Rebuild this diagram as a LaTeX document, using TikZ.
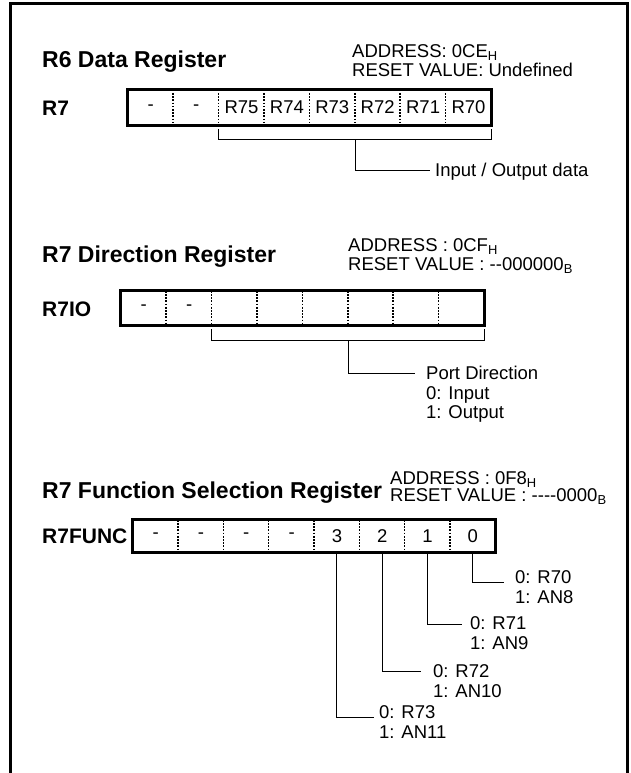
\documentclass[tikz,border=0pt]{standalone}
\usepackage{fontspec}
\setmainfont{Liberation Sans}
\usetikzlibrary{calc}

\begin{document}
\begin{tikzpicture}[x=1pt, y=-1pt,
			titel/.style={font=\fontsize{23}{26}\selectfont\bfseries, anchor=base west, inner sep=0pt},
			regname/.style={font=\fontsize{21}{24}\selectfont\bfseries, anchor=base west, inner sep=0pt},
			adresse/.style={font=\fontsize{18.5}{#1}\selectfont, anchor=north west, inner sep=0pt, align=left},
			bit/.style={minimum width=45.4pt, minimum height=#1, inner sep=0pt, font=\fontsize{18.5}{20}\selectfont},
			rahmen/.style={line width=3pt},
			trenner/.style={line width=1.5pt, dash pattern=on 1.7pt off 1.5pt},
			linie/.style={line width=1pt},
			hinweis/.style={font=\fontsize{18.5}{#1}\selectfont, anchor=north west, inner sep=0pt, align=left},
			execute at begin node={\lineskiplimit=-20pt}]
			\useasboundingbox (0,0) rectangle (631,773);
			% Rahmen zeichnen
			\draw[rahmen] (10,773) -- (10,4) -- (627.5,4) -- (627.5,773);
			% Datenregister
			\node[titel] (t1) at (42,68) {R6 Data Register};
			\node[adresse=19] (a1) at (352,44.7) {ADDRESS: 0CE\textsubscript{H}\\RESET VALUE: Undefined};
			\node[regname] (n1) at (42,116) {R7};
			\foreach \lab [count=\i from 0] in {-,-,R75,R74,R73,R72,R71,R70} \node[bit=35pt] (d\i) at (128+22.7+45.4*\i,107.5) {\lab};
			\foreach \i in {1,...,7} \draw[trenner] (d\i.north west) -- (d\i.south west);
			\draw[rahmen] (d0.north west) rectangle (d7.south east);
			\draw[linie] ([yshift=-4pt]d2.south west) -- ++(0,10) -| ([yshift=-4pt]d7.south east);
			\coordinate (m1) at ($(d2.south west)!0.5!(d7.south east)+(0,14)$);
			\coordinate (e1) at (430,170);
			\draw[linie] (m1) |- (e1);
			\node[hinweis=20] (h1) at (435,163.3) {Input / Output data};
			% Richtungsregister
			\node[titel] (t2) at (42,262) {R7 Direction Register};
			\node[adresse=19] (a2) at (348,238.7) {ADDRESS : 0CF\textsubscript{H}\\RESET VALUE : -{}-000000\textsubscript{B}};
			\node[regname] (n2) at (42,316) {R7IO};
			\foreach \lab [count=\i from 0] in {-,-,{},{},{},{},{},{}} \node[bit=34pt] (p\i) at (121+22.7+45.4*\i,308) {\lab};
			\foreach \i in {1,...,7} \draw[trenner] (p\i.north west) -- (p\i.south west);
			\draw[rahmen] (p0.north west) rectangle (p7.south east);
			\draw[linie] ([yshift=-4pt]p2.south west) -- ++(0,11) -| ([yshift=-4pt]p7.south east);
			\coordinate (m2) at ($(p2.south west)!0.5!(p7.south east)+(0,15)$);
			\coordinate (e2) at (415,373);
			\draw[linie] (m2) |- (e2);
			\node[hinweis=19.5] (h2) at (426,366.3) {Port Direction\\0: Input\\1: Output};
			% Funktionsregister
			\node[titel] (t3) at (42,498) {R7 Function Selection Register};
			\node[adresse=17] (a3) at (390,471.7) {ADDRESS : 0F8\textsubscript{H}\\RESET VALUE : -{}-{}-{}-0000\textsubscript{B}};
			\node[regname] (n3) at (42,543) {R7FUNC};
			\foreach \lab [count=\i from 0] in {-,-,-,-,3,2,1,0} \node[bit=32pt] (f\i) at (133+22.7+45.3*\i,536) {\lab};
			\foreach \i in {1,...,7} \draw[trenner] (f\i.north west) -- (f\i.south west);
			\draw[rahmen] (f0.north west) rectangle (f7.south east);
			% Bits beschriften
			\foreach \i/\ex/\ey/\tx/\ty/\lab in {7/504/582/515/577/{0: R70\\1: AN8}, 6/462/624/470/623/{0: R71\\1: AN9}, 5/421/671/433/671/{0: R72\\1: AN10}, 4/374/717/379/712/{0: R73\\1: AN11}} {
				\coordinate (b\i) at (\ex,\ey);
				\draw[linie] (f\i.south) |- (b\i);
				\node[hinweis=20] (l\i) at (\tx,\ty-6.7) {\lab};
			}
		\end{tikzpicture}
\end{document}
